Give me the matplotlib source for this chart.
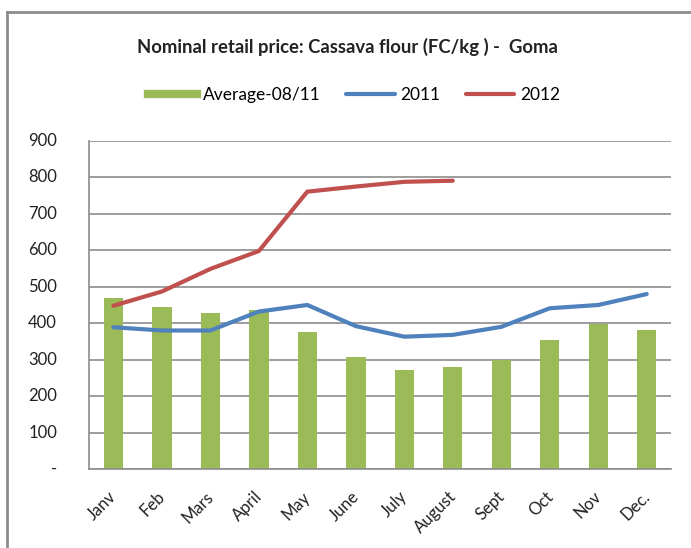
import numpy as np
import matplotlib
matplotlib.use("Agg")
import matplotlib.pyplot as plt
from matplotlib.lines import Line2D
from matplotlib.transforms import ScaledTranslation

plt.rcParams['font.family'] = ['Lato', 'DejaVu Sans']

months = ['Janv', 'Feb', 'Mars', 'April', 'May', 'June', 'July', 'August',
          'Sept', 'Oct', 'Nov', 'Dec.']
average_08_11 = [470, 444, 429, 436, 376, 307, 271, 281, 299, 355, 397, 381]
prices_2011 = [389, 380, 380, 432, 450, 392, 363, 368, 390, 441, 450, 480]
prices_2012 = [448, 487, 549, 598, 761, 775, 788, 791]
y_ticks = [0, 100, 200, 300, 400, 500, 600, 700, 800, 900]
y_labels = ['-', '100', '200', '300', '400', '500', '600', '700', '800', '900']

green = '#9bbb59'
blue = '#4f81bd'
red = '#c0504d'

fig = plt.figure(figsize=(6.91, 5.48), dpi=100)
ax = fig.add_axes([0.129, 0.1442, 0.842, 0.5985])

x = np.arange(len(months))
ax.bar(x, average_08_11, width=0.4, color=green, zorder=2)
ax.plot(x, prices_2011, color=blue, lw=3, solid_capstyle='round', zorder=3)
ax.plot(x[:len(prices_2012)], prices_2012, color=red, lw=3,
        solid_capstyle='round', zorder=3)

ax.set_ylim(0, 900)
ax.set_xlim(-0.5, len(months) - 0.5)
ax.yaxis.grid(True, color='#8c8c8c', lw=1.2, zorder=0)
ax.set_axisbelow(True)
for side in ['top', 'right']:
    ax.spines[side].set_visible(False)
for side in ['left', 'bottom']:
    ax.spines[side].set_color('#8c8c8c')
    ax.spines[side].set_linewidth(1.2)

ax.set_xticks(x)
ax.set_xticklabels(months, rotation=45, ha='right', rotation_mode='anchor',
                   fontsize=12, color='#222222')
ax.tick_params(axis='both', length=0)
ax.tick_params(axis='x', pad=14)
# nudge month labels slightly left, like the source chart
nudge = ScaledTranslation(-0.05, 0, fig.dpi_scale_trans)
for lab in ax.get_xticklabels():
    lab.set_transform(lab.get_transform() + nudge)

# y value labels sit well left of the axis line in the source chart
ax.set_yticks(y_ticks)
ax.set_yticklabels([])
ytrans = ax.get_yaxis_transform()
for v, lab in zip(y_ticks, y_labels):
    ax.text(-0.055, v, lab, transform=ytrans, ha='right', va='center',
            fontsize=12, color='#222222', clip_on=False)

fig.text(0.503, 0.914, 'Nominal retail price: Cassava flour (FC/kg ) -  Goma',
         ha='center', va='center', fontsize=13.3, fontweight='bold',
         color='#222222')

handles = [
    Line2D([], [], color=green, lw=6),
    Line2D([], [], color=blue, lw=3, solid_capstyle='round'),
    Line2D([], [], color=red, lw=3, solid_capstyle='round'),
]
fig.legend(handles, ['Average-08/11', '2011', '2012'], loc='center',
           bbox_to_anchor=(0.513, 0.827), ncol=3, frameon=False,
           fontsize=12.5, handlelength=2.8, columnspacing=1.45,
           handletextpad=0.35)

# chart area border (left and top edges only are visible)
fig.add_artist(Line2D([0.0105, 0.0105], [0, 0.978], color='#8c8c8c', lw=2,
                      transform=fig.transFigure))
fig.add_artist(Line2D([0.0105, 1], [0.978, 0.978], color='#8c8c8c', lw=2,
                      transform=fig.transFigure))

fig.savefig('out.png', dpi=100)
